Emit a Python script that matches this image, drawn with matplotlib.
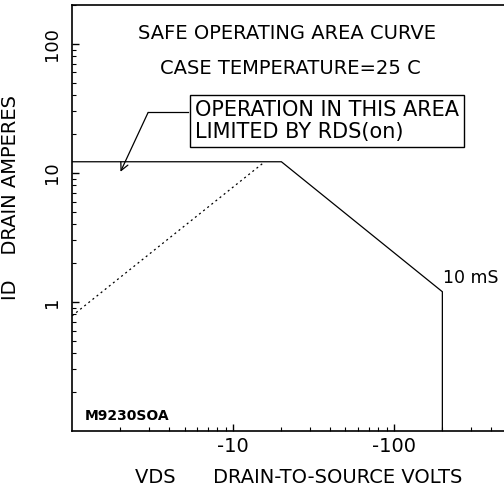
import matplotlib
matplotlib.use("Agg")
import matplotlib.pyplot as plt
from matplotlib.ticker import FixedLocator, LogLocator, NullFormatter

# 安全工作区曲线 (|VDS| 伏, ID 安培)
soa_vds = [1, 20, 200, 200]
soa_id = [12.2, 12.2, 1.2, 0.1]

# RDS(on) 限制线
rds_vds = [1, 15.5]
rds_id = [0.78, 12.0]

x_ticks = [10, 100]
x_tick_labels = ["-10", "-100"]
y_ticks = [1, 10, 100]
y_tick_labels = ["1", "10", "100"]

plt.rcParams['font.family'] = ['DejaVu Sans']

fig = plt.figure(figsize=(5.04, 4.91), dpi=100)
ax = fig.add_axes([0.1429, 0.1222, 0.958, 0.8676])

ax.set_xscale("log")
ax.set_yscale("log")
ax.set_xlim(1, 1000)
ax.set_ylim(0.1, 200)

# 曲线
ax.plot(soa_vds, soa_id, color="black", lw=0.9, solid_joinstyle="miter")
ax.plot(rds_vds, rds_id, color="black", lw=0.9, linestyle=(0, (1.6, 2.6)))

# 坐标轴样式
for side in ["left", "bottom", "top"]:
    ax.spines[side].set_linewidth(1.2)
ax.spines["right"].set_visible(False)

ax.xaxis.set_major_locator(FixedLocator(x_ticks))
ax.set_xticklabels(x_tick_labels, fontsize=14)
ax.xaxis.set_minor_locator(LogLocator(base=10, subs=range(2, 10)))
ax.xaxis.set_minor_formatter(NullFormatter())

ax.yaxis.set_major_locator(FixedLocator(y_ticks))
ax.set_yticklabels(y_tick_labels, fontsize=13, rotation=90, va="center")
ax.yaxis.set_minor_locator(LogLocator(base=10, subs=range(2, 10)))
ax.yaxis.set_minor_formatter(NullFormatter())

ax.tick_params(which="major", direction="in", length=5, width=1, pad=8)
ax.tick_params(which="minor", direction="in", length=3, width=0.8)
ax.tick_params(axis="x", which="major", pad=4)
ax.tick_params(axis="x", which="both", top=False)
ax.tick_params(axis="y", which="both", right=False)

ax.set_xlabel("VDS      DRAIN-TO-SOURCE VOLTS", fontsize=14)
ax.xaxis.set_label_coords(0.47, -0.088)
ax.set_ylabel("ID    DRAIN AMPERES", fontsize=14)
ax.yaxis.set_label_coords(-0.108, 0.549)

# 标题文字
ax.text(0.445, 0.934, "SAFE OPERATING AREA CURVE", transform=ax.transAxes,
        ha="center", va="center", fontsize=14)
ax.text(0.453, 0.852, "CASE TEMPERATURE=25 C", transform=ax.transAxes,
        ha="center", va="center", fontsize=14)

# 注释框
ax.text(0.255, 0.728, "OPERATION IN THIS AREA\nLIMITED BY RDS(on)",
        transform=ax.transAxes, ha="left", va="center", fontsize=15,
        linespacing=1.1,
        bbox=dict(boxstyle="square,pad=0.25", fc="white", ec="black", lw=1))
ax.plot([5.25, 2.97], [29.4, 29.4], color="black", lw=0.9)
ax.annotate("", xy=(2.0, 10.2), xytext=(2.97, 29.4),
            arrowprops=dict(arrowstyle="->", lw=0.9, color="black",
                            shrinkA=0, shrinkB=0, mutation_scale=14))

ax.text(0.768, 0.359, "10 mS", transform=ax.transAxes, ha="left",
        va="center", fontsize=12.5)
ax.text(0.027, 0.035, "M9230SOA", transform=ax.transAxes, ha="left",
        va="center", fontsize=10, fontweight="bold")

fig.savefig("out.png", dpi=100)
